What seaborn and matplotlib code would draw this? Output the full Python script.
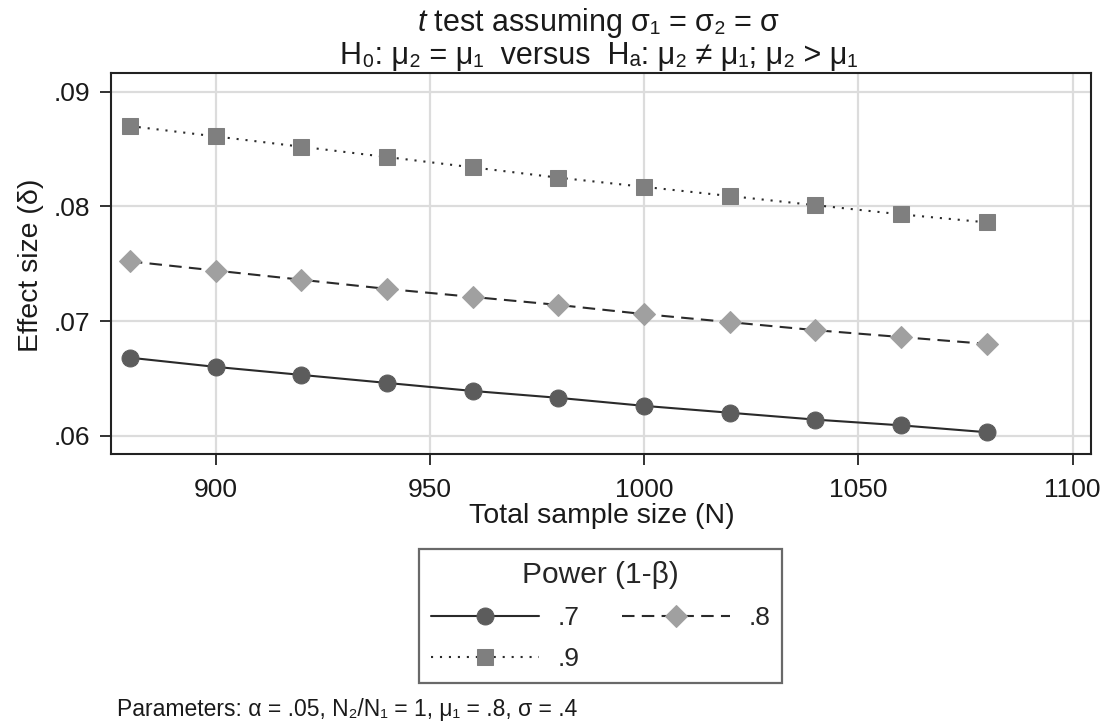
import matplotlib
matplotlib.use("Agg")
import matplotlib.pyplot as plt
import matplotlib.ticker as mticker
import seaborn as sns
import pandas as pd

# values
sample_n = [880, 900, 920, 940, 960, 980, 1000, 1020, 1040, 1060, 1080]
delta_p70 = [.0668, .0660, .0653, .0646, .0639, .0633, .0626, .0620, .0614, .0609, .0603]
delta_p80 = [.0752, .0744, .0736, .0728, .0721, .0714, .0706, .0699, .0692, .0686, .0680]
delta_p90 = [.0870, .0861, .0852, .0843, .0834, .0825, .0817, .0809, .0801, .0793, .0786]
power_labels = [".7", ".8", ".9"]
x_ticks = [900, 950, 1000, 1050, 1100]
y_ticks = [.06, .07, .08, .09]

sns.set_style("white")
plt.rcParams["font.family"] = ["Liberation Sans", "DejaVu Sans"]
plt.rcParams["mathtext.fontset"] = "custom"
plt.rcParams["mathtext.it"] = "Liberation Sans:italic"
plt.rcParams["mathtext.rm"] = "Liberation Sans"

rows = []
for lab, vals in zip(power_labels, [delta_p70, delta_p80, delta_p90]):
    for n, d in zip(sample_n, vals):
        rows.append({"N": n, "delta": d, "power": lab})
df = pd.DataFrame(rows)

styles = {
    ".7": dict(marker="o", mfc="#5c5c5c", ls="-", ms=12.2),
    ".8": dict(marker="D", mfc="#a0a0a0", ls=(0, (6, 3.5)), ms=11.7),
    ".9": dict(marker="s", mfc="#7f7f7f", ls=(0, (1, 3.3)), ms=11.8),
}

fig = plt.figure(figsize=(11.1, 7.24), dpi=100)
ax = fig.add_axes([0.1, 0.3729, 0.8829, 0.5263])

for lab in power_labels:
    st = styles[lab]
    sns.lineplot(data=df[df["power"] == lab], x="N", y="delta", ax=ax,
                 color="#2a2a2a", linestyle=st["ls"], linewidth=1.5,
                 marker=st["marker"], markersize=st["ms"],
                 markerfacecolor=st["mfc"], markeredgecolor=st["mfc"],
                 label=lab)

ax.set_xlim(875.6, 1104.3)
ax.set_ylim(.0584, .09163)
ax.set_xticks(x_ticks)
ax.set_yticks(y_ticks)
ax.yaxis.set_major_formatter(mticker.FuncFormatter(lambda v, p: ("%.2f" % v).lstrip("0")))
ax.grid(True, color="#dcdcdc", linewidth=1.6)
ax.set_axisbelow(True)
for s in ax.spines.values():
    s.set_color("#222222")
    s.set_linewidth(1.5)
ax.tick_params(axis="both", direction="out", length=8, width=1.3, color="#222222",
               labelsize=19, labelcolor="#1a1a1a", bottom=True, left=True)
ax.tick_params(axis="x", pad=9)
ax.tick_params(axis="y", pad=7)

ax.set_xlabel("Total sample size (N)", fontsize=20.5, color="#1a1a1a")
ax.set_ylabel("Effect size (δ)", fontsize=20.5, color="#1a1a1a")
ax.xaxis.set_label_coords(0.501, -0.128)
ax.yaxis.set_label_coords(-0.068, 0.496)

# two-line title, placed by baseline
tx = 599 / 1110
fig.text(tx, 1 - 31 / 724, "$\\it{t}$ test assuming σ₁ = σ₂ = σ",
         ha="center", va="baseline", fontsize=22, color="#1a1a1a")
fig.text(tx, 1 - 64 / 724, "H₀: μ₂ = μ₁  versus  Hₐ: μ₂ ≠ μ₁; μ₂ > μ₁",
         ha="center", va="baseline", fontsize=22, color="#1a1a1a")

if ax.get_legend():
    ax.get_legend().remove()
handles, labels = ax.get_legend_handles_labels()
order = [0, 2, 1]  # fill rows: .7 .8 / .9
leg = fig.legend([handles[i] for i in order], [labels[i] for i in order],
                 title="Power (1-β)", ncol=2, loc="upper center",
                 bbox_to_anchor=(0.541, 0.2417), borderaxespad=0,
                 fontsize=19, title_fontsize=21.5,
                 frameon=True, fancybox=False, edgecolor="#444444",
                 handlelength=4.1, columnspacing=1.6, handletextpad=0.7,
                 labelspacing=0.65, borderpad=0.45)
leg.get_frame().set_linewidth(1.6)

fig.text(117 / 1110, 1 - 716 / 724, "Parameters: α = .05, N₂/N₁ = 1, μ₁ = .8, σ = .4",
         fontsize=16.5, va="baseline", color="#1a1a1a")

fig.savefig("out.png", dpi=100)
plt.close()
